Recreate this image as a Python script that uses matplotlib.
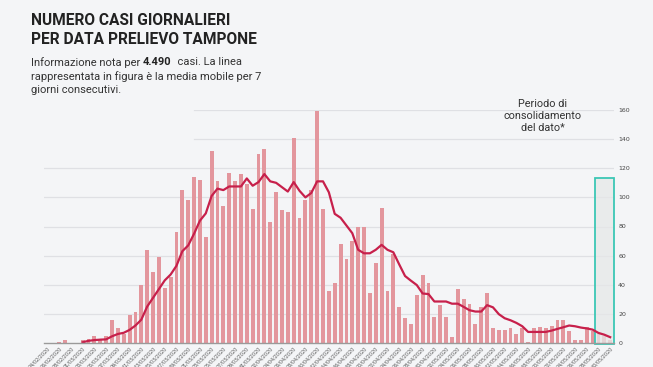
import numpy as np
import pandas as pd
import matplotlib
matplotlib.use('Agg')
import matplotlib.pyplot as plt
from matplotlib.patches import Rectangle

# giorni dal 24/02/2020 al 30/05/2020
giorni = list(pd.date_range('2020-02-24', '2020-05-30').strftime('%d/%m/%Y'))

# casi giornalieri
casi = [0, 0, 1, 2, 0, 0, 2, 3, 5, 3,
        5, 16, 10, 6, 19, 21, 40, 64, 49, 59,
        38, 45, 76, 105, 98, 114, 112, 73, 132, 111,
        94, 117, 111, 116, 109, 92, 130, 133, 83, 104,
        91, 90, 141, 86, 98, 105, 159, 92, 36, 41,
        68, 58, 70, 80, 80, 34, 55, 93, 36, 61,
        25, 17, 13, 33, 47, 41, 18, 26, 18, 4,
        37, 30, 27, 13, 25, 34, 10, 9, 9, 10,
        6, 10, 1, 10, 11, 10, 12, 16, 16, 8,
        2, 2, 11, 8, 6, 5, 2]

# media mobile 7 giorni
media = [np.nan] * 6 + [
    0.5, 1.5, 2, 2.3,
    2.5, 4.6, 6.2, 7, 9, 12, 16, 25, 31, 37,
    43, 47, 53, 63, 67, 75, 84, 89, 101, 106,
    105, 107.5, 107.5, 107.5, 113, 108, 110.5, 116, 111, 110,
    107, 104, 110.5, 104.5, 100, 103, 111, 111, 103.5, 88.7,
    86, 80.7, 75.4, 64, 61.6, 61.6, 64, 67.4, 64, 62.3,
    54, 46, 42.8, 39.8, 34, 33.6, 28.5, 28.5, 28.5, 27,
    27, 24.8, 22.5, 21.6, 21.6, 26, 24.5, 19.8, 17, 15.6,
    13.8, 11.5, 7.6, 7.6, 7.6, 7.6, 8.5, 9.7, 10.8, 12,
    11.5, 10.6, 10, 9.2, 6.9, 5.7, 4]

yticks = [0, 20, 40, 60, 80, 100, 120, 140, 160]

sfondo = '#f4f5f7'
fig = plt.figure(figsize=(6.53, 3.67), dpi=100, facecolor=sfondo)
ax = fig.add_axes([44 / 653, 24 / 367, 570 / 653, 233 / 367])
ax.set_facecolor(sfondo)

x = np.arange(len(giorni))
ax.bar(x, casi, width=0.66, color='#e3969d', zorder=2)
ax.plot(x, media, color='#c7204b', lw=1.6, zorder=4)

# griglia (le righe alte partono dopo il testo)
for v in yticks[1:]:
    start = 0.263 if v >= 140 else 0
    ax.axhline(v, xmin=start, color='#dfe0e4', lw=0.9, zorder=1)

ax.set_xlim(-0.6, 96.65)
ax.set_ylim(0, 160)
ax.yaxis.tick_right()
ax.set_yticks(yticks)
ax.tick_params(axis='y', length=0, pad=3, labelsize=4.5, labelcolor='#444444')
ax.set_xticks(x[::2])
ax.set_xticklabels(giorni[::2], rotation=45, ha='right', rotation_mode='anchor',
                   fontsize=3.5, color='#555555')
ax.tick_params(axis='x', length=0, pad=2)
for s in ['top', 'left', 'right']:
    ax.spines[s].set_visible(False)
ax.spines['bottom'].set_color('#9a9a9a')
ax.spines['bottom'].set_linewidth(1)
ax.spines['bottom'].set_zorder(5)

# periodo di consolidamento
ax.add_patch(Rectangle((93.4, -1), 96.62 - 93.4, 114, facecolor=(0.9, 0.91, 0.91, 0.75),
                       edgecolor='#3cc7b5', lw=1.3, zorder=3, clip_on=False))
fig.text(543 / 653, 1 - 99 / 367, 'Periodo di\nconsolidamento\ndel dato*', ha='center',
         va='top', fontsize=7.8, linespacing=1.22, color='#333333', family='Roboto')

# titolo e sottotitolo
fig.text(31 / 653, 1 - 13 / 367, 'NUMERO CASI GIORNALIERI\nPER DATA PRELIEVO TAMPONE',
         ha='left', va='top', fontsize=11.2, fontweight='bold', color='#222222',
         family='Roboto', linespacing=1.3)

fs = 8
yy = 1 - 57 / 367
t1 = fig.text(31 / 653, yy, 'Informazione nota per ', fontsize=fs, color='#333333',
              family='Roboto', va='top')
fig.canvas.draw()
r = fig.canvas.get_renderer()
bb = t1.get_window_extent(r)
t2 = fig.text(bb.x1 / 653, yy, '4.490', fontsize=fs, fontweight='bold', color='#222222',
              family='Roboto', va='top')
bb2 = t2.get_window_extent(r)
fig.text(bb2.x1 / 653, yy, '  casi. La linea', fontsize=fs, color='#333333',
         family='Roboto', va='top')
fig.text(31 / 653, 1 - 71 / 367, 'rappresentata in figura è la media mobile per 7\ngiorni consecutivi.',
         fontsize=fs, color='#333333', family='Roboto', va='top', linespacing=1.35)

fig.savefig('out.png', dpi=100, facecolor=sfondo)
